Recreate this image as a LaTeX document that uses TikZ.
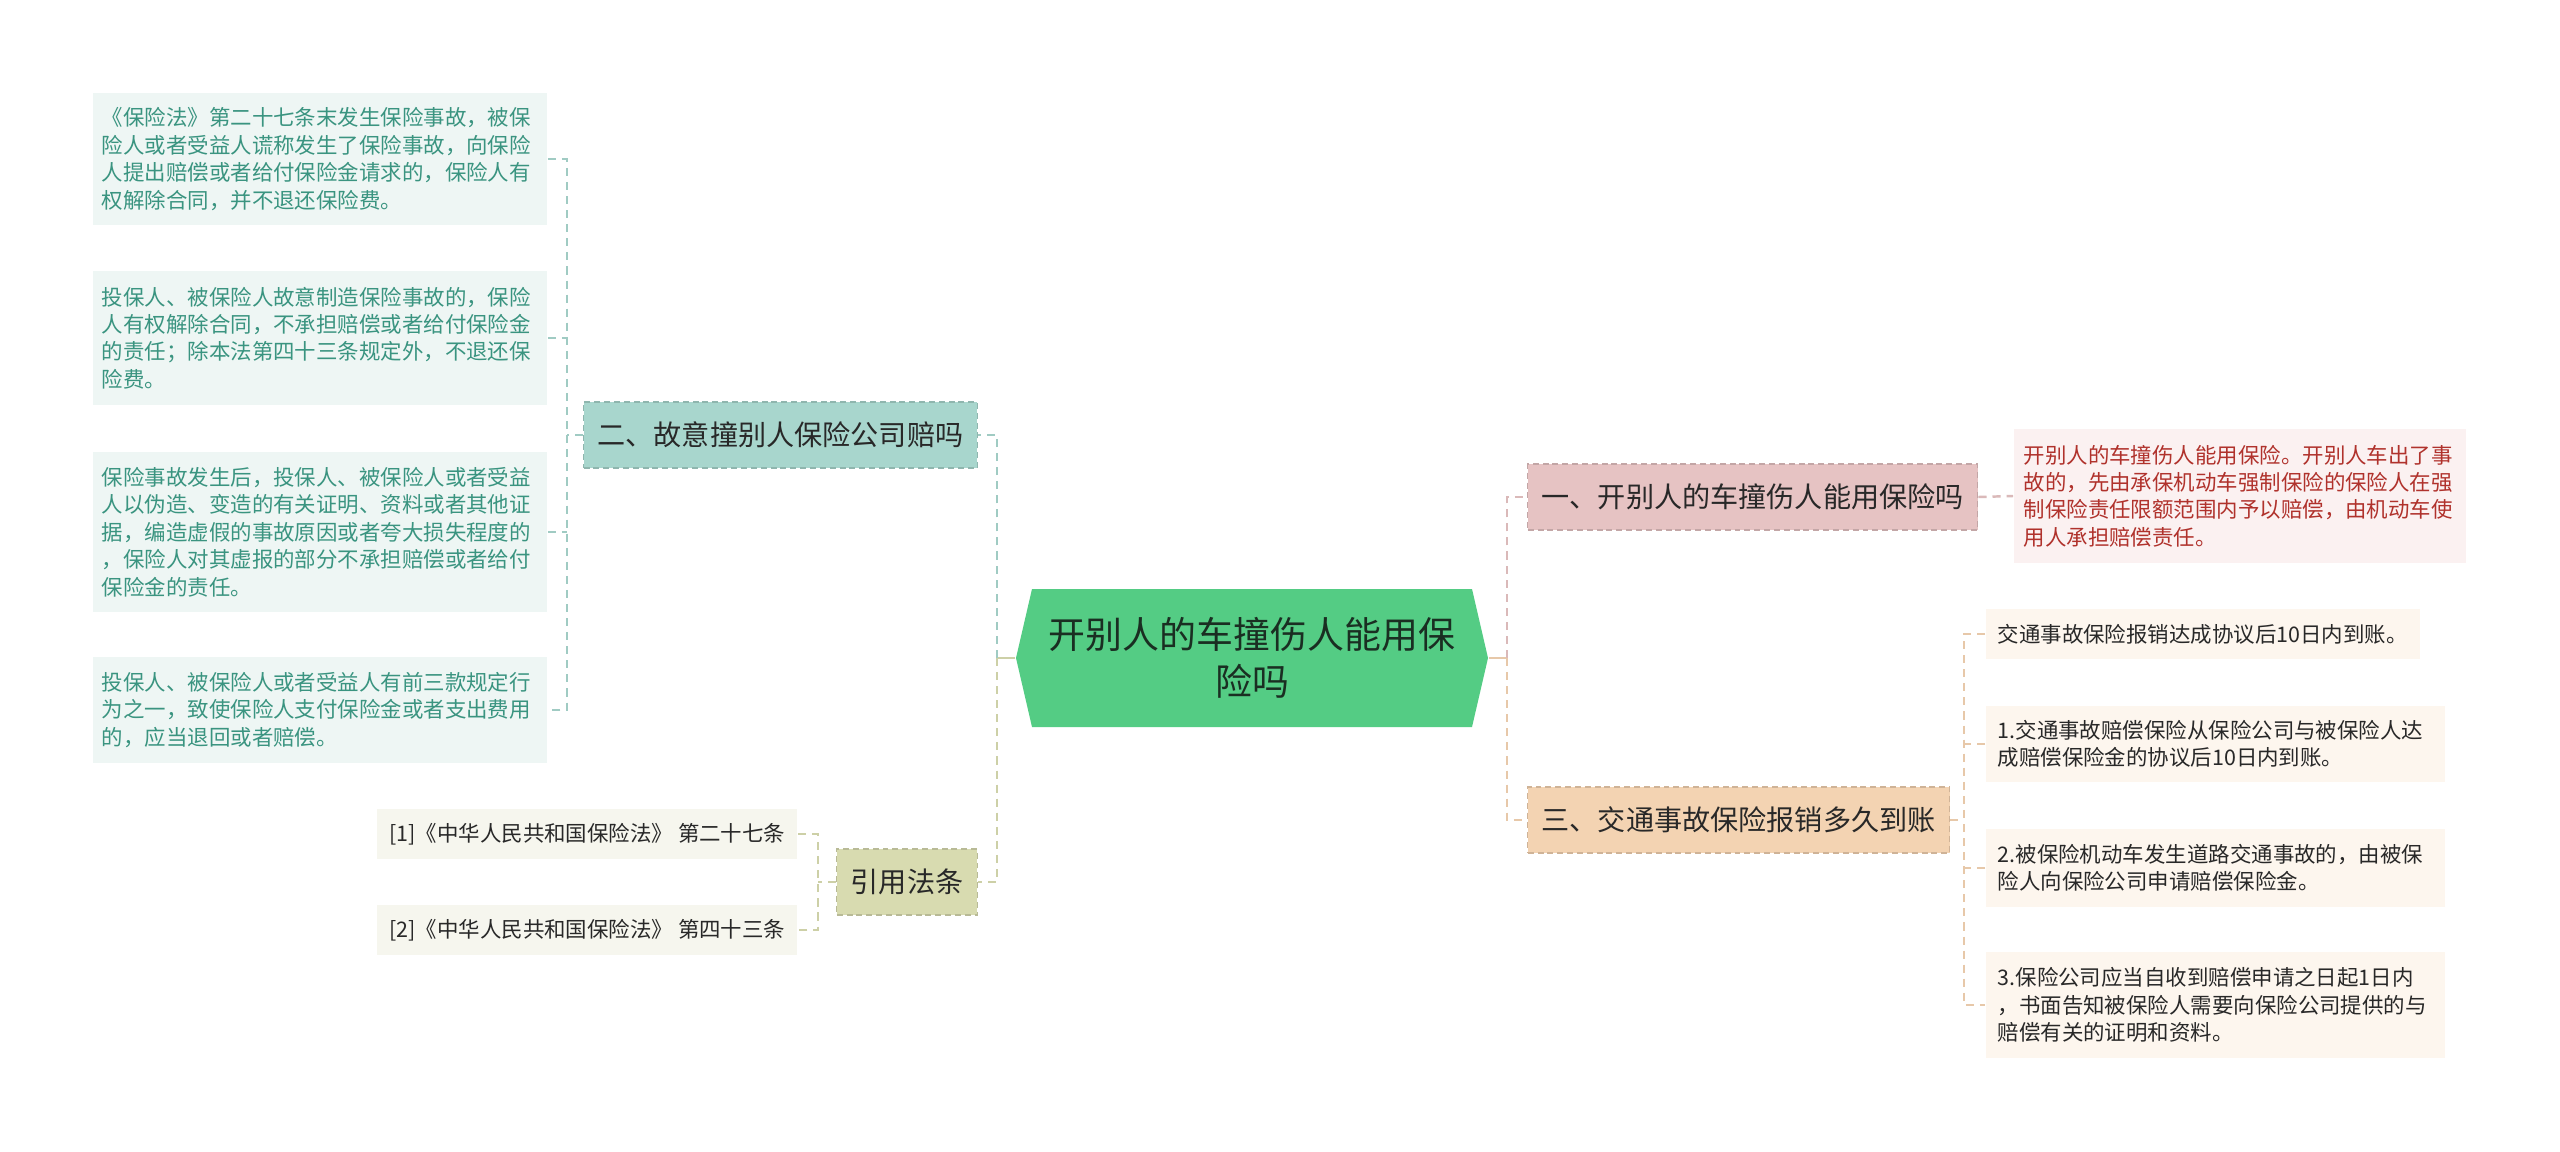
\documentclass[tikz,border=0pt]{standalone}
\usepackage{fontspec}
\setmainfont{Noto Sans CJK SC}
\usepackage{tikz}
\usetikzlibrary{positioning, calc}
\definecolor{rootgreen}{RGB}{84, 204, 132}
\definecolor{roottext}{RGB}{26, 46, 34}
\definecolor{mapteal}{RGB}{168, 214, 205}
\definecolor{mapolive}{RGB}{216, 219, 176}
\definecolor{mappink}{RGB}{230, 195, 195}
\definecolor{mappeach}{RGB}{243, 211, 178}
\definecolor{leafteal}{RGB}{238, 246, 244}
\definecolor{leafolive}{RGB}{246, 246, 238}
\definecolor{leafpink}{RGB}{251, 241, 241}
\definecolor{leafpeach}{RGB}{253, 246, 238}
\definecolor{inkteal}{RGB}{58, 148, 128}
\definecolor{inkred}{RGB}{176, 50, 44}
\definecolor{inkdark}{RGB}{40, 40, 40}

\begin{document}
\begin{tikzpicture}[x=0.01cm, y=-0.01cm,
    every node/.style={font=\fontsize{6.1}{7.8}\selectfont, inner xsep=0.1cm, inner ysep=0.12cm},
    link/.style={line width=0.7pt, dash pattern=on 2.3pt off 1.7pt},
    tealline/.style={link, draw=mapteal!95!black},
    oliveline/.style={link, draw=mapolive!95!black},
    pinkline/.style={link, draw=mappink!95!black},
    peachline/.style={link, draw=mappeach!95!black},
    roottitle/.style={font=\fontsize{10.5}{13.4}\selectfont, text=roottext, align=center,
      minimum width=4.72cm, minimum height=1.38cm, inner sep=0pt},
    branchbox/.style={font=\fontsize{8}{9.6}\selectfont, text=inkdark, inner xsep=0.14cm,
      minimum height=0.66cm, line width=0.4pt, dash pattern=on 1.7pt off 1.1pt},
    tealleaf/.style={fill=leafteal, text=inkteal, align=left, text width=4.36cm, inner xsep=0.09cm},
    oliveleaf/.style={fill=leafolive, text=inkdark, minimum height=0.5cm, inner xsep=0.12cm},
    redleaf/.style={fill=leafpink, text=inkred, align=left, text width=4.32cm},
    peachleaf/.style={fill=leafpeach, text=inkdark, align=left, inner xsep=0.12cm}]
    \fill[white] (0,0) rectangle (2560,1151);
    \useasboundingbox (0,0) rectangle (2560,1151);

    \fill[rootgreen] (1016,658) -- (1032,589) -- (1472,589) -- (1488,658)
      -- (1472,727) -- (1032,727) -- cycle;
    \node[roottitle] (root) at (1252,658) {开别人的车撞伤人能用保\\险吗};

    \node[branchbox, fill=mapteal, draw=mapteal!85!black, anchor=east] (intent) at (978,435) {二、故意撞别人保险公司赔吗};
    \node[branchbox, fill=mapolive, draw=mapolive!85!black, anchor=east] (cite) at (978,882) {引用法条};
    \node[branchbox, fill=mappink, draw=mappink!85!black, anchor=west] (useins) at (1527,497) {一、开别人的车撞伤人能用保险吗};
    \node[branchbox, fill=mappeach, draw=mappeach!85!black, anchor=west] (payday) at (1527,820) {三、交通事故保险报销多久到账};

    \node[tealleaf, minimum height=1.32cm] (lawa) at (320,159) {《保险法》第二十七条末发生保险事故，被保\\险人或者受益人谎称发生了保险事故，向保险\\人提出赔偿或者给付保险金请求的，保险人有\\权解除合同，并不退还保险费。};
    \node[tealleaf, minimum height=1.33cm] (lawb) at (320,338) {投保人、被保险人故意制造保险事故的，保险\\人有权解除合同，不承担赔偿或者给付保险金\\的责任；除本法第四十三条规定外，不退还保\\险费。};
    \node[tealleaf, minimum height=1.6cm] (lawc) at (320,532) {保险事故发生后，投保人、被保险人或者受益\\人以伪造、变造的有关证明、资料或者其他证\\据，编造虚假的事故原因或者夸大损失程度的\\，保险人对其虚报的部分不承担赔偿或者给付\\保险金的责任。};
    \node[tealleaf, minimum height=1.05cm] (lawd) at (320,710) {投保人、被保险人或者受益人有前三款规定行\\为之一，致使保险人支付保险金或者支出费用\\的，应当退回或者赔偿。};

    \node[oliveleaf, anchor=east] (arta) at (798,834) {[1]《中华人民共和国保险法》 第二十七条};
    \node[oliveleaf, anchor=east] (artb) at (798,930) {[2]《中华人民共和国保险法》 第四十三条};

    \node[redleaf, minimum height=1.34cm, anchor=west] (useinsnote) at (2013,496) {开别人的车撞伤人能用保险。开别人车出了事\\故的，先由承保机动车强制保险的保险人在强\\制保险责任限额范围内予以赔偿，由机动车使\\用人承担赔偿责任。};

    \node[peachleaf, minimum height=0.5cm, anchor=west] (paya) at (1985,634) {交通事故保险报销达成协议后10日内到账。};
    \node[peachleaf, text width=4.35cm, minimum height=0.76cm, anchor=west] (payb) at (1985,744) {1.交通事故赔偿保险从保险公司与被保险人达\\成赔偿保险金的协议后10日内到账。};
    \node[peachleaf, text width=4.35cm, minimum height=0.78cm, anchor=west] (payc) at (1985,868) {2.被保险机动车发生道路交通事故的，由被保\\险人向保险公司申请赔偿保险金。};
    \node[peachleaf, text width=4.35cm, minimum height=1.05cm, anchor=west] (payd) at (1985,1005) {3.保险公司应当自收到赔偿申请之日起1日内\\，书面告知被保险人需要向保险公司提供的与\\赔偿有关的证明和资料。};

    \coordinate (lhub) at (997,658);
    \coordinate (rhub) at (1507,658);
    \coordinate (intenthub) at (567,435);
    \coordinate (citehub) at (818,882);
    \coordinate (payhub) at (1964,820);

    \draw[oliveline, solid] (root.west) -- (lhub);
    \draw[tealline] (lhub) |- (intent.east);
    \draw[oliveline] (lhub) |- (cite.east);
    \draw[peachline, solid] (root.east) -- (rhub);
    \draw[pinkline] (rhub) |- (useins.west);
    \draw[peachline] (rhub) |- (payday.west);

    \draw[tealline] (intent.west) -- (intenthub);
    \draw[tealline] (lawa.east) -- (lawa.east -| intenthub) -- (lawd.east -| intenthub) -- (lawd.east);
    \draw[tealline] (lawb.east) -- (lawb.east -| intenthub);
    \draw[tealline] (lawc.east) -- (lawc.east -| intenthub);

    \draw[oliveline] (cite.west) -- (citehub);
    \draw[oliveline] (arta.east) -- (arta.east -| citehub) -- (artb.east -| citehub) -- (artb.east);

    \draw[pinkline] (useins.east) -- (useinsnote.west);

    \draw[peachline] (payday.east) -- (payhub);
    \draw[peachline] (paya.west) -- (paya.west -| payhub) -- (payd.west -| payhub) -- (payd.west);
    \draw[peachline] (payb.west) -- (payb.west -| payhub);
    \draw[peachline] (payc.west) -- (payc.west -| payhub);
  \end{tikzpicture}
\end{document}
